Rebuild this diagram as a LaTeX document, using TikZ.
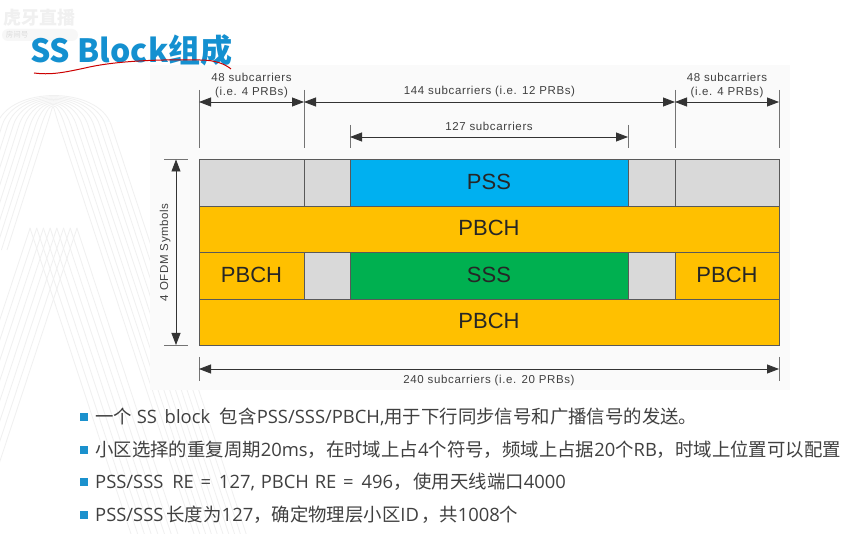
\documentclass[tikz,border=0pt]{standalone}
\usepackage{fontspec}
\setmainfont{Open Sans}
\newfontfamily\cjkfont{Noto Sans CJK SC}
\newfontfamily\labelfont[LetterSpace=5.5]{Liberation Sans}
\newfontfamily\cellfont{Liberation Sans}
\newcommand{\zh}[1]{{\cjkfont #1}}
\usepackage{xcolor}
\usetikzlibrary{calc, positioning, arrows.meta}
\definecolor{titleBlue}{RGB}{20, 144, 208}
\definecolor{bulletBlue}{RGB}{27, 145, 205}
\definecolor{cellGray}{RGB}{217, 217, 217}
\definecolor{cellPss}{RGB}{0, 176, 240}
\definecolor{cellSss}{RGB}{0, 176, 80}
\definecolor{cellPbch}{RGB}{255, 192, 0}
\definecolor{bodyText}{RGB}{64, 64, 64}
\tikzset{
  cell/.style={draw=black!65, line width=0.9pt, anchor=north west, inner sep=0pt, outer sep=0pt, text depth=2pt, font=\cellfont\fontsize{22}{24}\selectfont, text=black!85},
  span/.style={{Stealth[length=12pt,width=9pt,inset=0pt]}-{Stealth[length=12pt,width=9pt,inset=0pt]}, line width=0.8pt, black!80},
  tick/.style={line width=0.8pt, black!55},
  spanlabel/.style={font=\labelfont\fontsize{11.5}{14}\selectfont, text=black!75, align=center, inner sep=0pt},
  point/.style={fill=bulletBlue, minimum size=8pt, inner sep=0pt},
  bullet/.style={anchor=west, inner sep=0pt, text=bodyText, font=\fontsize{18.4}{20}\selectfont},
  stripe/.style={line width=0.8pt, black!6},
}
\begin{document}
\begin{tikzpicture}[x=1pt, y=-1pt, >=Stealth]
  \useasboundingbox (0,0) rectangle (847,534);
  \fill[white] (0,0) rectangle (847,534);

  % faint backdrop
  \foreach \k in {0,...,9} {
    \pgfmathsetmacro{\xl}{47-5.6*\k}
    \pgfmathsetmacro{\xr}{59+5.8*\k}
    \pgfmathsetmacro{\cy}{101-1.7*\k}
    \pgfmathsetmacro{\cd}{0.33*(125-\cy)}
    \draw[stripe] ({\xl-40},{125+125}) -- (\xl,125) .. controls ({\xl+\cd},\cy) and ({\xr-\cd},\cy) .. (\xr,125) -- ({\xr+135},{125+409});
  }
  \foreach \k in {0,...,7} {
    \draw[stripe] ({30+\k*6.7},228) -- ({30+\k*6.7+101},534);
    \draw[stripe] ({77-\k*6.7},228) -- ({77-\k*6.7-80},{228+242});
  }
  \fill[black!2] (150,65) rectangle (790,390);
  \node[text=black!6, font=\cjkfont\bfseries\fontsize{18}{20}\selectfont, inner sep=0pt] (brand) at (40,18) {虎牙直播};
  \fill[black!3, rounded corners=6pt] (2,29) rectangle (78,41);
  \node[text=black!14, font=\cjkfont\fontsize{7.5}{8}\selectfont, inner sep=0pt] (room) at (17,35) {房间号};

  % title
  \node[anchor=west, inner sep=0pt, text=titleBlue, font=\cjkfont\bfseries\fontsize{32}{36}\selectfont] (title) at (30,50) {SS Block组成};
  \draw[red!80!black, line width=1pt] (34,73) .. controls (50,75) and (62,73) .. (85,68) .. controls (110,62) and (150,59) .. (200,60) .. controls (215,60) and (225,64) .. (231,69);

  % grid
  \node[cell, fill=cellGray, minimum width=105pt, minimum height=47pt] (a1) at (199,159) {};
  \node[cell, fill=cellGray, minimum width=46pt, minimum height=47pt] (a2) at (304,159) {};
  \node[cell, fill=cellPss, minimum width=278pt, minimum height=47pt] (pss) at (350,159) {PSS};
  \node[cell, fill=cellGray, minimum width=47pt, minimum height=47pt] (a3) at (628,159) {};
  \node[cell, fill=cellGray, minimum width=104pt, minimum height=47pt] (a4) at (675,159) {};
  \node[cell, fill=cellPbch, minimum width=580pt, minimum height=46pt] (pbch1) at (199,206) {PBCH};
  \node[cell, fill=cellPbch, minimum width=105pt, minimum height=47pt] (pbch2) at (199,252) {PBCH};
  \node[cell, fill=cellGray, minimum width=46pt, minimum height=47pt] (b2) at (304,252) {};
  \node[cell, fill=cellSss, minimum width=278pt, minimum height=47pt] (sss) at (350,252) {SSS};
  \node[cell, fill=cellGray, minimum width=47pt, minimum height=47pt] (b3) at (628,252) {};
  \node[cell, fill=cellPbch, minimum width=104pt, minimum height=47pt] (pbch3) at (675,252) {PBCH};
  \node[cell, fill=cellPbch, minimum width=580pt, minimum height=46pt] (pbch4) at (199,299) {PBCH};

  % ticks above
  \coordinate (t1) at (199,90);
  \coordinate (t2) at (304,90);
  \coordinate (t3) at (675,90);
  \coordinate (t4) at (779,90);
  \coordinate (t5) at (350,125);
  \coordinate (t6) at (628,125);
  \draw[tick] (t1) -- +(0,58);
  \draw[tick] (t2) -- +(0,58);
  \draw[tick] (t3) -- +(0,58);
  \draw[tick] (t4) -- +(0,58);
  \draw[tick] (t5) -- +(0,23);
  \draw[tick] (t6) -- +(0,23);

  % spans
  \draw[span] ($(t1)+(0,12)$) -- ($(t2)+(0,12)$) node[midway, above=4pt, spanlabel] (w48a) {48 subcarriers\\(i.e. 4 PRBs)};
  \draw[span] ($(t2)+(0,12)$) -- ($(t3)+(0,12)$) node[midway, above=5pt, spanlabel] (w144) {144 subcarriers (i.e. 12 PRBs)};
  \draw[span] ($(t3)+(0,12)$) -- ($(t4)+(0,12)$) node[midway, above=4pt, spanlabel] (w48b) {48 subcarriers\\(i.e. 4 PRBs)};
  \draw[span] ($(t5)+(0,12)$) -- ($(t6)+(0,12)$) node[midway, above=6pt, spanlabel] (w127) {127 subcarriers};

  % left and bottom
  \coordinate (h1) at (164,159.5);
  \coordinate (h2) at (164,345);
  \draw[tick] (h1) -- +(24,0);
  \draw[tick] (h2) -- +(24,0);
  \draw[span] ($(h1)+(12,0)$) -- ($(h2)+(12,0)$) node[midway, left=5pt, spanlabel, rotate=90, anchor=south] (w4) {4 OFDM Symbols};
  \coordinate (g1) at (199,357);
  \coordinate (g2) at (779,357);
  \draw[tick] (g1) -- +(0,24);
  \draw[tick] (g2) -- +(0,24);
  \draw[span] ($(g1)+(0,12)$) -- ($(g2)+(0,12)$) node[midway, below=6pt, spanlabel] (w240) {240 subcarriers (i.e. 20 PRBs)};

  % notes
  \node[point] (p1) at (84,417) {};
  \node[point] (p2) at (84,450) {};
  \node[point] (p3) at (84,482) {};
  \node[point] (p4) at (84,515) {};
  \node[bullet] (n1) at (95,417) {\zh{一个} SS\hspace{3pt} block\hspace{5pt} \zh{包含}PSS/SSS/PBCH,\zh{用于下行同步信号和广播信号的发送。}};
  \node[bullet] (n2) at (95,450) {\zh{小区选择的重复周期}20ms\zh{，在时域上占}4\zh{个符号，频域上占据}20\zh{个}RB\zh{，时域上位置可以配置}};
  \node[bullet] (n3) at (95,482) {PSS/SSS\hspace{4pt} RE\hspace{2pt} =\hspace{3pt} 127,\hspace{1pt} PBCH\hspace{1pt} RE\hspace{2pt} =\hspace{3pt} 496\zh{，}\hspace{2pt}\zh{使用天线端口}4000};
  \node[bullet] (n4) at (95,515) {PSS/SSS\hspace{3pt}\zh{长度为}127\zh{，确定物理层小区}ID\hspace{2pt}\zh{，共}1008\zh{个}};
\end{tikzpicture}
\end{document}
